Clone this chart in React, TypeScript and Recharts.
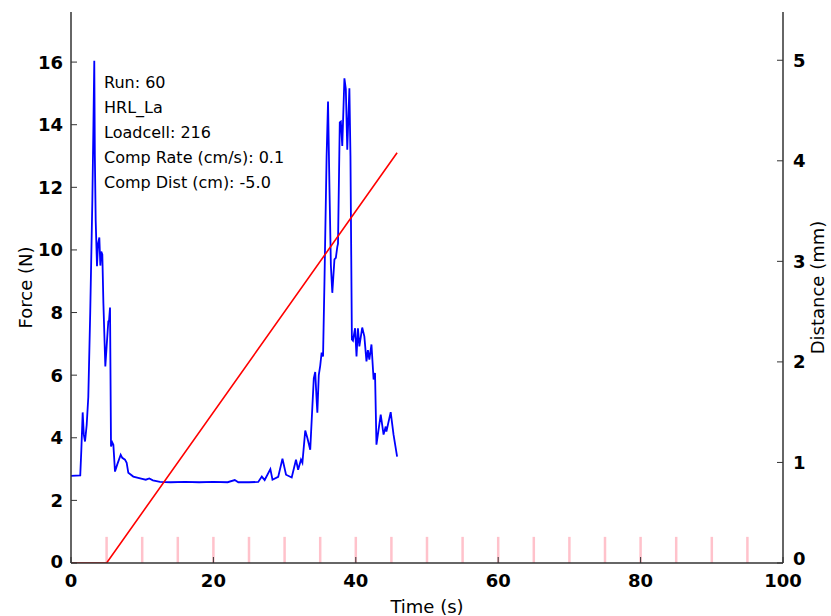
import React from "react";
import {
  LineChart,
  Line,
  XAxis,
  YAxis,
  ReferenceLine,
} from "recharts";

// force trace (s, N)
const forceTime = [
  0, 1.3, 1.45, 1.64, 1.8, 1.97, 2.2, 2.43, 2.7, 3.0, 3.15, 3.27, 3.35, 3.47,
  3.65, 3.8, 3.98, 4.12, 4.25, 4.4, 4.55, 4.82, 5.0, 5.24, 5.35, 5.48, 5.62,
  5.8, 5.95, 6.18, 6.5, 6.98, 7.2, 7.58, 7.82, 8.05, 8.75, 10, 10.5, 11, 11.5,
  12.5, 14, 16, 18, 20, 22, 23, 23.5, 25, 26.3, 26.8, 27.2, 28.0, 28.3, 29.1,
  29.7, 30.2, 31.0, 31.6, 31.9, 32.3, 32.5, 32.9, 33.2, 33.6, 33.9, 34.1, 34.3,
  34.5, 34.6, 34.8, 35.0, 35.2, 35.4, 35.6, 35.9, 36.1, 36.3, 36.5, 36.7, 37.0,
  37.2, 37.4, 37.5, 37.75, 37.9, 38.1, 38.4, 38.6, 38.8, 39.1, 39.25, 39.45,
  39.6, 39.9, 40.1, 40.3, 40.5, 40.9, 41.2, 41.5, 41.7, 41.9, 42.2, 42.5, 42.7,
  42.9, 43.5, 43.9, 44.2, 44.3, 44.9, 45.3, 45.8,
];
const forceValue = [
  2.78, 2.8, 3.6, 4.81, 4.1, 3.88, 4.4, 5.3, 8.0, 11.6, 14.0, 16.04, 13.0,
  10.92, 9.48, 10.2, 10.4, 9.5, 9.95, 9.86, 8.3, 6.28, 6.9, 7.72, 7.75, 8.16,
  3.72, 3.85, 3.78, 2.92, 3.15, 3.46, 3.36, 3.3, 3.2, 2.88, 2.76, 2.69, 2.66,
  2.7, 2.64, 2.59, 2.58, 2.59, 2.58, 2.59, 2.58, 2.65, 2.58, 2.58, 2.59, 2.76,
  2.65, 3.0, 2.66, 2.75, 3.33, 2.82, 2.73, 3.3, 2.98, 3.3, 3.2, 4.23, 3.99,
  3.62, 5.0, 5.9, 6.1, 5.2, 4.8, 6.0, 6.3, 6.72, 6.6, 9.0, 13.0, 14.74, 12.0,
  9.5, 8.63, 9.7, 9.75, 10.1, 10.2, 14.07, 14.1, 13.32, 15.48, 15.14, 13.2,
  15.16, 13.0, 7.14, 7.1, 7.5, 6.6, 7.5, 6.92, 7.52, 7.24, 6.44, 6.8, 6.5,
  6.98, 5.86, 6.07, 3.78, 4.74, 4.1, 4.36, 4.2, 4.82, 4.1, 3.4,
];

// compression distance (s, mm)
const distTime = [0, 5, 45.8];
const distValue = [0, 0, 4.08];

// pink event markers along the bottom
const markerTimes = [5, 10, 15, 20, 25, 30, 35, 40, 45, 50, 55, 60, 65, 70, 75, 80, 85, 90, 95];
const markerHeight = 0.26;

const timeTicks = [0, 20, 40, 60, 80, 100];
const forceTicks = [0, 2, 4, 6, 8, 10, 12, 14, 16];
const distTicks = [0, 1, 2, 3, 4, 5];

const infoLines = [
  "Run: 60",
  "HRL_La",
  "Loadcell: 216",
  "Comp Rate (cm/s): 0.1",
  "Comp Dist (cm): -5.0",
];

const forceData = forceTime.map((t, i) => ({ t, force: forceValue[i] }));
const distData = distTime.map((t, i) => ({ t, dist: distValue[i] }));

const FONT = "'DejaVu Sans', sans-serif";
const AXIS = "#333";

const BottomTick = (props: any) => {
  const { x, y, payload } = props;
  return (
    <g>
      <line x1={x} y1={y} x2={x} y2={y - 6} stroke={AXIS} strokeWidth={1} />
      <text x={x} y={y + 17} textAnchor="middle" dominantBaseline="central"
        fontFamily={FONT} fontWeight="bold" fontSize={18} fill="#000">
        {payload.value}
      </text>
    </g>
  );
};

const TopTick = (props: any) => {
  const { x, y } = props;
  return <line x1={x} y1={y} x2={x} y2={y + 6} stroke={AXIS} strokeWidth={1} />;
};

const LeftTick = (props: any) => {
  const { x, y, payload } = props;
  return (
    <g>
      <line x1={x} y1={y} x2={x + 6} y2={y} stroke={AXIS} strokeWidth={1} />
      <text x={x - 8} y={payload.value === 0 ? y - 2 : y} textAnchor="end" dominantBaseline="central"
        fontFamily={FONT} fontWeight="bold" fontSize={18} fill="#000">
        {payload.value}
      </text>
    </g>
  );
};

const RightTick = (props: any) => {
  const { x, y, payload } = props;
  return (
    <g>
      <line x1={x} y1={y} x2={x - 6} y2={y} stroke={AXIS} strokeWidth={1} />
      <text x={x + 10} y={payload.value === 0 ? y - 5 : y} textAnchor="start" dominantBaseline="central"
        fontFamily={FONT} fontWeight="bold" fontSize={18} fill="#000">
        {payload.value}
      </text>
    </g>
  );
};

const labelStyle = { fontFamily: FONT, fontSize: 18, fill: "#000" };

export default function App() {
  return (
    <div style={{ position: "absolute", left: 0, top: 0, width: 831, height: 616, background: "#fff" }}>
      <LineChart width={831} height={616} margin={{ top: 12, right: 0, bottom: 0, left: 0 }}>
        <XAxis
          dataKey="t"
          type="number"
          domain={[0, 100]}
          ticks={timeTicks}
          height={53}
          tickSize={0}
          tickMargin={0}
          tick={<BottomTick />}
          axisLine={{ stroke: AXIS, strokeWidth: 1.5 }}
          allowDataOverflow
          label={{ value: "Time (s)", position: "insideBottom", offset: 3, style: labelStyle }}
        />
        <XAxis
          xAxisId="top"
          orientation="top"
          type="number"
          domain={[0, 100]}
          ticks={timeTicks}
          height={0}
          tickSize={0}
          tickMargin={0}
          tick={<TopTick />}
          axisLine={{ stroke: AXIS, strokeWidth: 1.5 }}
        />
        <YAxis
          yAxisId="left"
          type="number"
          domain={[0, 17.6]}
          ticks={forceTicks}
          width={71}
          tickSize={0}
          tickMargin={0}
          tick={<LeftTick />}
          axisLine={{ stroke: AXIS, strokeWidth: 1.5 }}
          allowDataOverflow
          label={{ value: "Force (N)", angle: -90, position: "center", dx: -9.5, style: labelStyle }}
        />
        <YAxis
          yAxisId="right"
          orientation="right"
          type="number"
          domain={[0, 5.48]}
          ticks={distTicks}
          width={48}
          tickSize={0}
          tickMargin={0}
          tick={<RightTick />}
          axisLine={{ stroke: AXIS, strokeWidth: 1.5 }}
          allowDataOverflow
          label={{ value: "Distance (mm)", angle: -90, position: "center", dx: 11, style: labelStyle }}
        />
        {markerTimes.map((t) => (
          <ReferenceLine
            key={t}
            yAxisId="right"
            segment={[{ x: t, y: 0 }, { x: t, y: markerHeight }]}
            stroke="#ffc2cb"
            strokeWidth={2.5}
          />
        ))}
        <Line
          yAxisId="left"
          data={forceData}
          dataKey="force"
          type="linear"
          stroke="#0000ff"
          strokeWidth={1.8}
          dot={false}
          isAnimationActive={false}
        />
        <Line
          yAxisId="right"
          data={distData}
          dataKey="dist"
          type="linear"
          stroke="#ff0000"
          strokeWidth={1.6}
          dot={false}
          isAnimationActive={false}
        />
      </LineChart>
      <div
        style={{
          position: "absolute",
          left: 104,
          top: 70,
          fontFamily: FONT,
          fontSize: 16,
          lineHeight: "25px",
          color: "#000",
          whiteSpace: "nowrap",
        }}
      >
        {infoLines.map((s) => (
          <div key={s}>{s}</div>
        ))}
      </div>
    </div>
  );
}
